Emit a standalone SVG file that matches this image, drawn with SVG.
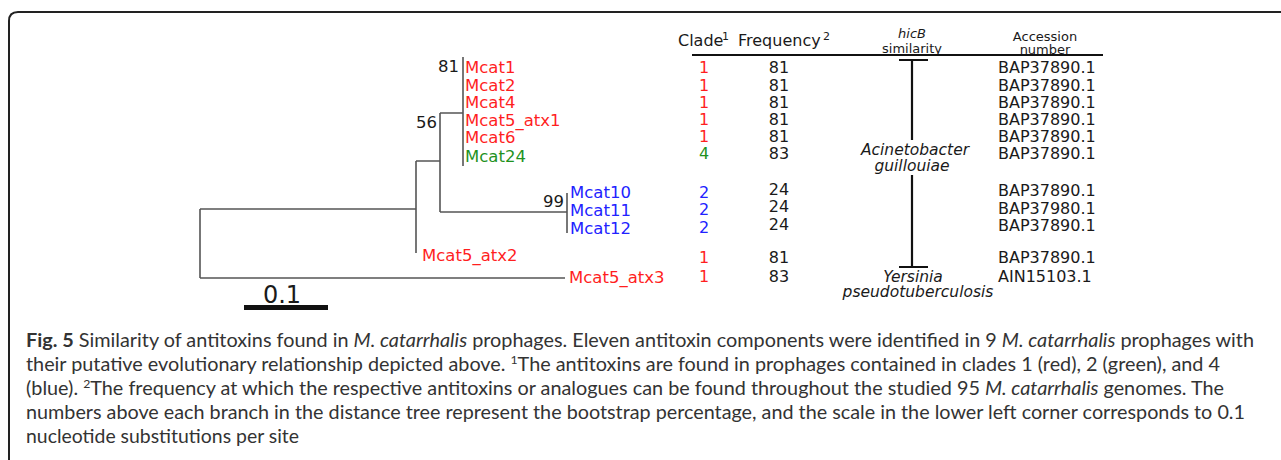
<svg xmlns="http://www.w3.org/2000/svg" width="1281" height="460" viewBox="0 0 1281 460">
  <defs>
    <style>
      .frame { fill: none; stroke: #222; stroke-width: 2; }
      .edge { fill: none; stroke: #555; stroke-width: 1.6; }
      .rule { fill: none; stroke: #111; stroke-width: 2; }
      .bar { fill: none; stroke: #111; stroke-width: 2.2; }
      .lbl { font-family: "DejaVu Sans", "Liberation Sans", sans-serif; font-size: 16.5px; }
      .tbl { font-family: "DejaVu Sans", "Liberation Sans", sans-serif; font-size: 16px; fill: #1a1a1a; }
      .hdr { font-family: "DejaVu Sans", "Liberation Sans", sans-serif; font-size: 16px; fill: #1a1a1a; }
      .sup { font-family: "DejaVu Sans", "Liberation Sans", sans-serif; font-size: 11px; fill: #1a1a1a; }
      .small { font-family: "DejaVu Sans", "Liberation Sans", sans-serif; font-size: 13px; fill: #1a1a1a; text-anchor: middle; }
      .sp { font-family: "DejaVu Sans", "Liberation Sans", sans-serif; font-size: 15.5px; font-style: italic; fill: #1a1a1a; text-anchor: middle; }
      .boot { font-family: "DejaVu Sans", "Liberation Sans", sans-serif; font-size: 16.5px; fill: #1a1a1a; text-anchor: end; }
      .red { fill: #ff1f1f; }
      .green { fill: #1f921f; }
      .blue { fill: #2222ff; }
      .c { text-anchor: middle; }
      .cap { font-family: Lato, "Open Sans", sans-serif; font-size: 19.4px; fill: #333; }
      .cap .b { font-weight: bold; }
      .cap .i { font-style: italic; }
      .cap .s { font-size: 12px; }
    </style>
  </defs>

  <!-- panel frame (open to the right and bottom) -->
  <path class="frame" d="M9,470 V21 Q9,12 18,12 H1290"/>

  <!-- tree branches -->
  <g id="connectors">
    <path class="edge" d="M200,209 V278 M200,209 H416 M200,278 H565"/>
    <path class="edge" d="M416,161 V253 M416,161 H440"/>
    <path class="edge" d="M440,113 V212 M440,113 H463 M440,212 H567"/>
    <path class="edge" d="M463,57 V166"/>
    <path class="edge" d="M567,193 V233"/>
  </g>

  <!-- bootstrap values -->
  <g id="node-81"><text class="boot" x="459" y="72">81</text></g>
  <g id="node-56"><text class="boot" x="437" y="128">56</text></g>
  <g id="node-99"><text class="boot" x="564" y="207">99</text></g>

  <!-- leaf labels -->
  <g id="leaf-mcat1"><text class="lbl red" x="465" y="73">Mcat1</text></g>
  <g id="leaf-mcat2"><text class="lbl red" x="465" y="90.5">Mcat2</text></g>
  <g id="leaf-mcat4"><text class="lbl red" x="465" y="108">Mcat4</text></g>
  <g id="leaf-mcat5-atx1"><text class="lbl red" x="465" y="125.5">Mcat5_atx1</text></g>
  <g id="leaf-mcat6"><text class="lbl red" x="465" y="143">Mcat6</text></g>
  <g id="leaf-mcat24"><text class="lbl green" x="465" y="161.5">Mcat24</text></g>
  <g id="leaf-mcat10"><text class="lbl blue" x="570" y="197.5">Mcat10</text></g>
  <g id="leaf-mcat11"><text class="lbl blue" x="570" y="215.5">Mcat11</text></g>
  <g id="leaf-mcat12"><text class="lbl blue" x="570" y="233.5">Mcat12</text></g>
  <g id="leaf-mcat5-atx2"><text class="lbl red" x="422" y="261">Mcat5_atx2</text></g>
  <g id="leaf-mcat5-atx3"><text class="lbl red" x="569" y="283">Mcat5_atx3</text></g>

  <!-- scale bar -->
  <g id="scale">
    <rect x="244" y="305" width="84" height="5" fill="#111"/>
    <text x="282" y="303" font-family="'DejaVu Sans', 'Liberation Sans', sans-serif" font-size="24px" fill="#1a1a1a" text-anchor="middle">0.1</text>
  </g>

  <!-- table header -->
  <g id="table-header">
    <text class="hdr" x="678" y="46">Clade</text>
    <text class="sup" x="722" y="40">1</text>
    <text class="hdr" x="738" y="46">Frequency</text>
    <text class="sup" x="823" y="40" font-size="12px">2</text>
    <text class="small" x="912" y="38" font-style="italic">hicB</text>
    <text class="small" x="912" y="53">similarity</text>
    <text class="small" x="1045" y="41">Accession</text>
    <text class="small" x="1045" y="54">number</text>
    <path class="rule" d="M692,55 H1103"/>
  </g>

  <!-- clade column -->
  <g id="clade-column" class="tbl c">
    <text class="red" x="704" y="73">1</text>
    <text class="red" x="704" y="90.5">1</text>
    <text class="red" x="704" y="108">1</text>
    <text class="red" x="704" y="125">1</text>
    <text class="red" x="704" y="142">1</text>
    <text class="green" x="704" y="159">4</text>
    <text class="blue" x="704" y="198">2</text>
    <text class="blue" x="704" y="215">2</text>
    <text class="blue" x="704" y="233">2</text>
    <text class="red" x="704" y="263">1</text>
    <text class="red" x="704" y="282">1</text>
  </g>

  <!-- frequency column -->
  <g id="frequency-column" class="tbl c">
    <text x="779" y="73">81</text>
    <text x="779" y="90.5">81</text>
    <text x="779" y="108">81</text>
    <text x="779" y="125">81</text>
    <text x="779" y="142">81</text>
    <text x="779" y="159">83</text>
    <text x="779" y="195">24</text>
    <text x="779" y="212">24</text>
    <text x="779" y="229.5">24</text>
    <text x="779" y="263">81</text>
    <text x="779" y="282">83</text>
  </g>

  <!-- hicB similarity column -->
  <g id="similarity-column">
    <path class="bar" d="M899,60 H928 M912,60 V140"/>
    <text class="sp" x="915" y="155">Acinetobacter</text>
    <text class="sp" x="912" y="171">guillouiae</text>
    <path class="bar" d="M912,175 V267 M899,267 H928"/>
    <text class="sp" x="913" y="281.5">Yersinia</text>
    <text class="sp" x="918" y="297">pseudotuberculosis</text>
  </g>

  <!-- accession column -->
  <g id="accession-column" class="tbl">
    <text x="998" y="73">BAP37890.1</text>
    <text x="998" y="90.5">BAP37890.1</text>
    <text x="998" y="108">BAP37890.1</text>
    <text x="998" y="125">BAP37890.1</text>
    <text x="998" y="142">BAP37890.1</text>
    <text x="998" y="159">BAP37890.1</text>
    <text x="998" y="196">BAP37890.1</text>
    <text x="998" y="213.5">BAP37980.1</text>
    <text x="998" y="231">BAP37890.1</text>
    <text x="998" y="263">BAP37890.1</text>
    <text x="998" y="282">AIN15103.1</text>
  </g>

  <!-- caption -->
  <g id="caption" class="cap">
    <text x="26" y="347" textLength="1228" lengthAdjust="spacingAndGlyphs"><tspan class="b">Fig. 5</tspan> Similarity of antitoxins found in <tspan class="i">M. catarrhalis</tspan> prophages. Eleven antitoxin components were identified in 9 <tspan class="i">M. catarrhalis</tspan> prophages with</text>
    <text x="26" y="371" textLength="1194" lengthAdjust="spacingAndGlyphs">their putative evolutionary relationship depicted above. <tspan class="s" dy="-7">1</tspan><tspan dy="7">The antitoxins are found in prophages contained in clades 1 (red), 2 (green), and 4</tspan></text>
    <text x="26" y="395" textLength="1198" lengthAdjust="spacingAndGlyphs">(blue). <tspan class="s" dy="-7">2</tspan><tspan dy="7">The frequency at which the respective antitoxins or analogues can be found throughout the studied 95 </tspan><tspan class="i">M. catarrhalis</tspan> genomes. The</text>
    <text x="26" y="419" textLength="1219" lengthAdjust="spacingAndGlyphs">numbers above each branch in the distance tree represent the bootstrap percentage, and the scale in the lower left corner corresponds to 0.1</text>
    <text x="26" y="443" textLength="273" lengthAdjust="spacingAndGlyphs">nucleotide substitutions per site</text>
  </g>
</svg>
